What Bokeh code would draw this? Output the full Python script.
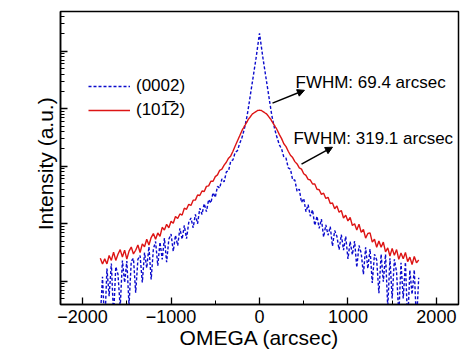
from bokeh.plotting import figure
from bokeh.models import (Range1d, LogTicker, SingleIntervalTicker, Label, Arrow,
                          NormalHead, Legend, LegendItem)
from bokeh.embed import file_html
from bokeh.resources import INLINE

# scan grid (arcsec): coarse tails, fine centre
omega_left = list(range(-1800, -200, 25))
omega_center = list(range(-200, 201, 10))
omega_right = list(range(225, 1801, 25))
omega = omega_left + omega_center + omega_right

# (10-12) reflection intensities
red_left = [25, 20, 24.5, 20, 28, 23, 32, 23, 29.5, 35.5,
            26.3, 34.7, 24.2, 33.4, 39.3, 29.8, 34.6, 42.6, 31.6, 44.6,
            39.8, 53.6, 42.6, 57.5, 67.5, 53.6, 69.1, 60.2, 86.7, 77.5,
            97.8, 85, 110, 102, 134, 123, 148, 141, 186, 178,
            218, 208, 257, 257, 316, 309, 371, 363, 446, 456,
            549, 549, 660, 707, 850, 890, 1046, 1173, 1379, 1511,
            1817, 2250, 2750, 3350]
red_center = [4100, 4420, 4650, 5000, 5250, 5650, 5930, 6380, 6700, 7030,
              7380, 7740, 8110, 8300, 8500, 8700, 8910, 9120, 9330, 9350,
              9400,
              9350, 9330, 9120, 8913, 8710, 8511, 8318, 8128, 7762, 7413,
              7079, 6761, 6457, 6026, 5754, 5370, 5129, 4786, 4571, 4266]
red_right = [3548, 3020, 2455, 2188, 1820, 1549, 1413, 1202, 1096, 933,
             891, 741, 692, 589, 575, 490, 490, 398, 389, 324,
             339, 275, 288, 224, 229, 182, 204, 158, 170, 126,
             141, 112, 129, 93.3, 100, 77.6, 97.7, 70.8, 79.4, 56.2,
             67.6, 69.2, 47.9, 53.7, 38.9, 50.1, 38.9, 47.9, 32.4, 38.0,
             27.5, 37.2, 28.2, 35.5, 24.0, 30.9, 24.5, 31.6, 21.9, 26.3,
             19.5, 26.9, 20.9, 23.4]

# (0002) reflection intensities
blue_left = [2.3, 12.0, 1.6, 16.6, 5.5, 20.4, 2.4, 17.8, 13.2, 3.5,
             22.9, 9.5, 22.4, 3.8, 22.4, 25, 6.3, 24.0, 28, 9.5,
             31.6, 17.0, 39.8, 10.7, 36.3, 49.0, 18.6, 47.9, 24.0, 56.2,
             21.4, 53.7, 66.1, 33.1, 63.1, 41.7, 83.2, 53.7, 93.3, 55.0,
             105, 126, 85.1, 145, 100, 186, 145, 224, 162, 263,
             229, 347, 288, 447, 417, 603, 537, 794, 832, 1230,
             1288, 1738, 1862, 2455]
blue_center = [3090, 3467, 3981, 4571, 5370, 6310, 7586, 9333, 11750, 14790,
               18620, 23440, 29500, 37150, 46800, 58900, 74100, 95500, 123000, 158500,
               204000,
               158500, 123000, 95500, 74100, 58900, 46800, 37150, 29500, 23440, 18620,
               14790, 11750, 9333, 7586, 6310, 5370, 4571, 3981, 3467, 3090]
blue_right = [2344, 1995, 1445, 1380, 933, 891, 575, 575, 363, 398,
              234, 275, 162, 214, 135, 174, 93.3, 135, 83.2, 120,
              58.9, 95.5, 63.1, 89.1, 40.7, 75.9, 60.3, 35.5, 64.6, 34.7,
              60.3, 24.5, 49.0, 28.8, 50.1, 17.4, 41.7, 30.9, 13.2, 38.9,
              16.6, 36.3, 9.3, 29.5, 23.4, 6.2, 29.5, 9.8, 29.5, 3.5,
              25.1, 5.0, 24.0, 14.5, 2.5, 20.9, 5.0, 21.4, 1.8, 15.5,
              5.9, 15.8, 1.9, 11.5]

red = red_left + red_center + red_right
blue = blue_left + blue_center + blue_right

series_labels = ["(0002)", "(101\u03052)"]
notes = ["FWHM: 69.4 arcsec", "FWHM: 319.1 arcsec"]
x_title = "OMEGA (arcsec)"
y_title = "Intensity (a.u.)\u00a0\u00a0"

FONT = "Liberation Sans"

p = figure(width=466, height=353, output_backend="svg", toolbar_location=None,
           y_axis_type="log", x_range=Range1d(-2250, 2250), y_range=Range1d(3.94, 4.9e5),
           min_border_left=60, min_border_right=8, min_border_top=11, min_border_bottom=49)

r_blue = p.line(omega, blue, line_color="#0a0acc", line_width=1.4, line_dash="3 2")
r_red = p.line(omega, red, line_color="#dd1414", line_width=1.4)

p.xgrid.visible = False
p.ygrid.visible = False
p.outline_line_color = "black"
p.outline_line_width = 1.5
p.background_fill_color = "white"
p.border_fill_color = "white"

p.xaxis.ticker = SingleIntervalTicker(interval=1000, num_minor_ticks=2)
p.yaxis.ticker = LogTicker(desired_num_ticks=6, num_minor_ticks=10)
for ax in (p.xaxis[0], p.yaxis[0]):
    ax.axis_line_color = "black"
    ax.axis_line_width = 1.5
    ax.major_tick_in = 7
    ax.major_tick_out = 0
    ax.minor_tick_in = 4
    ax.minor_tick_out = 0
    ax.major_tick_line_color = "black"
    ax.minor_tick_line_color = "black"
    ax.major_tick_line_width = 1.3
    ax.minor_tick_line_width = 1.0
    ax.axis_label_text_font = FONT
    ax.axis_label_text_font_size = "21px"
    ax.axis_label_text_font_style = "normal"
    ax.axis_label_text_color = "black"
p.xaxis.major_label_text_font = FONT
p.xaxis.major_label_text_font_size = "18px"
p.xaxis.major_label_text_color = "black"
p.xaxis.major_label_standoff = 5
p.xaxis.axis_label = x_title
p.xaxis.axis_label_standoff = 0
p.yaxis.major_label_text_font_size = "0px"
p.yaxis.major_label_text_alpha = 0
p.yaxis.axis_label = y_title
p.yaxis.axis_label_standoff = 4

legend = Legend(items=[LegendItem(label=series_labels[0], renderers=[r_blue]),
                       LegendItem(label=series_labels[1], renderers=[r_red])],
                location=(28, 184), glyph_width=42, glyph_height=20, label_standoff=6,
                spacing=4, padding=0, margin=0, border_line_color=None,
                background_fill_alpha=0, label_text_font=FONT, label_text_font_size="17px",
                label_text_color="black")
p.add_layout(legend)

head = dict(size=7, fill_color="black", line_color="black")
p.add_layout(Arrow(end=NormalHead(**head), x_start=147, y_start=12500, x_end=508, y_end=20900,
                   line_color="black", line_width=1.5))
p.add_layout(Arrow(end=NormalHead(**head), x_start=475, y_start=1084, x_end=825, y_end=2140,
                   line_color="black", line_width=1.5))

p.add_layout(Label(x=407, y=28800, text=notes[0], text_font=FONT, text_font_size="17px",
                   text_baseline="alphabetic", text_color="black"))
p.add_layout(Label(x=384, y=3070, text=notes[1], text_font=FONT, text_font_size="17px",
                   text_baseline="alphabetic", text_color="black"))

open("out.html", "w").write(file_html(p, INLINE))
